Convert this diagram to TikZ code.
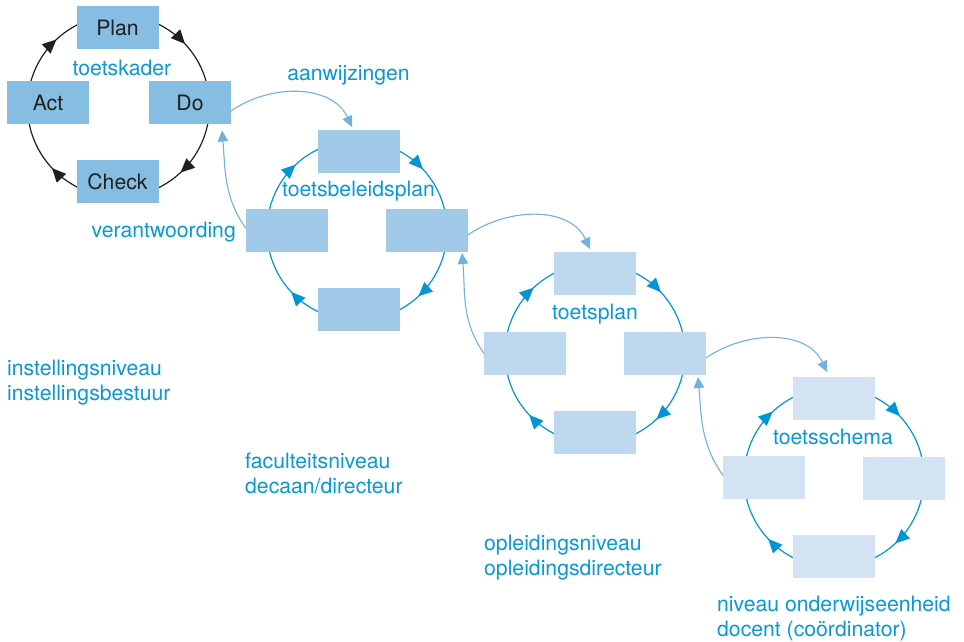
\documentclass[tikz,border=0pt]{standalone}
\usepackage{fontspec}
\setmainfont{TeX Gyre Heros}
\usetikzlibrary{arrows.meta,decorations.markings}

\definecolor{txtblue}{RGB}{8,152,214}
\definecolor{ringblue}{RGB}{0,150,214}
\definecolor{linkblue}{RGB}{110,178,224}
\definecolor{boxA}{RGB}{134,189,227}
\definecolor{boxB}{RGB}{161,201,232}
\definecolor{boxC}{RGB}{190,217,239}
\definecolor{boxD}{RGB}{211,227,244}
\definecolor{ink}{RGB}{35,31,32}

\begin{document}
\begin{tikzpicture}[x=1pt,y=1pt,
  font=\fontsize{21.2}{25}\selectfont,
  box/.style={minimum width=82pt, minimum height=43pt, inner sep=0pt, outer sep=0pt, text=ink},
  ring/.style={line width=1.2pt, postaction={decorate, decoration={markings,
      mark=at position 0.1194 with {\arrowreversed{Triangle[length=14pt,width=12.5pt]}},
      mark=at position 0.3694 with {\arrowreversed{Triangle[length=14pt,width=12.5pt]}},
      mark=at position 0.6194 with {\arrowreversed{Triangle[length=14pt,width=12.5pt]}},
      mark=at position 0.8694 with {\arrowreversed{Triangle[length=14pt,width=12.5pt]}}}}},
  link/.style={draw=linkblue, line width=1.1pt, -{Triangle[length=11pt,width=10.5pt]}},
  lbl/.style={text=txtblue, inner sep=0pt},
  level/.style={text=txtblue, inner sep=0pt, align=left, anchor=base west}
]
\useasboundingbox (0,0) rectangle (964,641);

% centres of the four cycles
\coordinate (c1) at (118.5,535);
\coordinate (c2) at (357,410.5);
\coordinate (c3) at (595,287.5);
\coordinate (c4) at (834,163.5);

% cycle rings (drawn beneath the boxes)
\draw[ring, draw=ink] (c1) circle[radius=91pt];
\draw[ring, draw=ringblue] (c2) circle[radius=90pt];
\draw[ring, draw=ringblue] (c3) circle[radius=90pt];
\draw[ring, draw=ringblue] (c4) circle[radius=90pt];

% PDCA cycle
\node[box, fill=boxA] (plan)  at (117.5,613) {Plan};
\node[box, fill=boxA] (act)   at (48,538)    {Act};
\node[box, fill=boxA] (do)    at (190,538)   {Do};
\node[box, fill=boxA] (check) at (117.5,459) {Check};
\node[lbl, anchor=base] (lk1) at (122,565) {toetskader};

% faculty cycle
\node[box, fill=boxB] (b2t) at (359,489.5) {};
\node[box, fill=boxB] (b2l) at (287,410.5) {};
\node[box, fill=boxB] (b2r) at (427,410.5) {};
\node[box, fill=boxB] (b2b) at (359,331.5) {};
\node[lbl, anchor=base] (lk2) at (358.5,444) {toetsbeleidsplan};

% programme cycle
\node[box, fill=boxC] (b3t) at (595,367.5) {};
\node[box, fill=boxC] (b3l) at (525,287.5) {};
\node[box, fill=boxC] (b3r) at (665,287.5) {};
\node[box, fill=boxC] (b3b) at (595,208.5) {};
\node[lbl, anchor=base] (lk3) at (595,322) {toetsplan};

% course unit cycle
\node[box, fill=boxD] (b4t) at (834,242.5) {};
\node[box, fill=boxD] (b4l) at (764,163.5) {};
\node[box, fill=boxD] (b4r) at (904,163) {};
\node[box, fill=boxD] (b4b) at (834,84.5) {};
\node[lbl, anchor=base] (lk4) at (833,196.5) {toetsschema};

% links between the cycles
\draw[link] ([yshift=-8pt]do.east) to[out=35,in=115] ([xshift=-7pt,yshift=3pt]b2t.north);
\draw[link] ([yshift=-4.5pt]b2r.east) to[out=35,in=115] ([xshift=-5pt,yshift=3pt]b3t.north);
\draw[link] ([yshift=-4.5pt]b3r.east) to[out=35,in=115] ([xshift=-7pt,yshift=5pt]b4t.north);
\draw[link] ([yshift=2pt]b2l.west) to[out=125,in=-85] ([xshift=-9pt,yshift=-6pt]do.south east);
\draw[link] (b3l.west) to[out=125,in=-85] ([xshift=-6pt,yshift=-1pt]b2r.south east);
\draw[link] ([yshift=2pt]b4l.west) to[out=125,in=-85] ([xshift=-8pt,yshift=-2pt]b3r.south east);

\node[lbl, anchor=base] (aanw) at (348.5,560) {aanwijzingen};
\node[lbl, anchor=base east] (verantw) at (236,403) {verantwoording};

% organisational levels (anchor sits on the second line's baseline)
\node[level] (lv1) at (7,241)   {instellingsniveau\\instellingsbestuur};
\node[level] (lv2) at (245,148) {faculteitsniveau\\decaan/directeur};
\node[level] (lv3) at (484,66)  {opleidingsniveau\\opleidingsdirecteur};
\node[level] (lv4) at (717,5)   {niveau onderwijseenheid\\docent (coördinator)};
\end{tikzpicture}
\end{document}
